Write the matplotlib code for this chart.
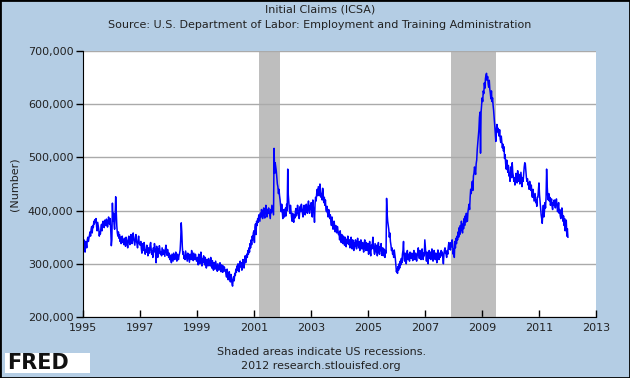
import numpy as np
import pandas as pd
import matplotlib
matplotlib.use('Agg')
import matplotlib.pyplot as plt
from matplotlib.ticker import FuncFormatter, MultipleLocator
from matplotlib.patches import Rectangle

# weekly initial claims, thousands (week ending Saturdays from Jan 1995)
claims_1995 = [340, 345, 328, 322, 342, 338, 330, 345, 350, 342, 348, 355, 360,
               352, 365, 370, 358, 372, 368, 380, 375, 383, 378, 385, 370, 362,
               378, 372, 365, 352, 360, 356, 368, 374, 362, 376, 380, 371, 368,
               382, 377, 372, 384, 380, 369, 376, 388, 379, 374, 385, 362, 334]
claims_1996 = [345, 414, 380, 395, 375, 365, 390, 426, 398, 372, 358, 352, 360,
               348, 355, 342, 350, 338, 346, 352, 340, 345, 336, 348, 342, 333,
               350, 344, 338, 330, 345, 352, 341, 336, 348, 355, 344, 338, 350,
               358, 346, 340, 335, 349, 355, 342, 338, 330, 345, 352, 340, 336]
claims_1997 = [335, 342, 328, 320, 338, 330, 325, 340, 332, 318, 326, 322, 335,
               328, 315, 330, 324, 320, 336, 340, 327, 318, 325, 312, 330, 322,
               338, 328, 320, 302, 333, 325, 312, 328, 320, 334, 326, 318, 322,
               315, 330, 324, 318, 326, 320, 314, 328, 335, 322, 316, 327, 320]
claims_1998 = [312, 320, 308, 316, 310, 302, 318, 312, 305, 320, 314, 308, 316,
               322, 310, 305, 318, 312, 308, 316, 320, 326, 345, 377, 360, 332,
               318, 322, 310, 315, 308, 324, 318, 312, 305, 320, 316, 310, 303,
               318, 312, 308, 325, 318, 312, 306, 320, 314, 308, 318, 312, 305]
claims_1999 = [305, 312, 298, 318, 306, 300, 314, 322, 308, 296, 310, 302, 315,
               306, 298, 312, 304, 292, 308, 300, 296, 310, 302, 305, 296, 312,
               300, 292, 306, 298, 288, 302, 295, 290, 305, 298, 292, 286, 300,
               294, 288, 296, 302, 290, 285, 298, 292, 284, 296, 288, 294, 286]
claims_2000 = [288, 280, 275, 290, 282, 270, 278, 285, 272, 266, 280, 274, 262,
               258, 270, 276, 268, 282, 278, 290, 284, 296, 288, 300, 292, 285,
               298, 305, 294, 302, 288, 296, 308, 300, 292, 306, 315, 302, 310,
               318, 312, 325, 318, 330, 322, 338, 330, 345, 336, 352, 345, 358]
claims_2001 = [362, 340, 368, 375, 355, 380, 372, 385, 378, 392, 386, 380, 395,
               388, 402, 394, 385, 398, 405, 392, 386, 400, 410, 396, 388, 402,
               395, 405, 398, 390, 385, 402, 396, 410, 404, 398, 392, 517, 470,
               490, 482, 475, 462, 450, 445, 432, 440, 428, 420, 410, 398, 412]
claims_2002 = [398, 385, 392, 402, 388, 395, 405, 390, 412, 400, 478, 430, 415,
               402, 395, 410, 398, 388, 380, 395, 384, 378, 392, 386, 398, 404,
               390, 395, 410, 402, 394, 385, 400, 408, 398, 412, 405, 395, 388,
               402, 410, 398, 392, 405, 412, 400, 395, 408, 418, 402, 395, 410]
claims_2003 = [402, 415, 395, 388, 420, 405, 398, 378, 412, 425, 418, 432, 440,
               428, 445, 436, 428, 450, 438, 425, 432, 420, 442, 430, 415, 425,
               410, 420, 402, 398, 408, 395, 388, 402, 395, 385, 392, 380, 372,
               388, 378, 365, 372, 380, 368, 360, 372, 365, 358, 370, 362, 355]
claims_2004 = [358, 345, 362, 350, 340, 355, 348, 338, 352, 345, 335, 350, 342,
               332, 346, 338, 352, 344, 336, 345, 330, 342, 350, 338, 328, 345,
               336, 325, 340, 332, 345, 336, 328, 340, 348, 335, 330, 342, 325,
               338, 345, 332, 328, 340, 335, 322, 338, 345, 330, 325, 340, 332]
claims_2005 = [325, 338, 318, 330, 342, 322, 315, 335, 328, 340, 350, 332, 325,
               318, 338, 330, 322, 335, 315, 328, 340, 326, 318, 332, 325, 338,
               316, 322, 330, 315, 328, 320, 312, 325, 320, 423, 395, 380, 372,
               365, 350, 358, 342, 335, 325, 330, 318, 322, 312, 326, 318, 310]
claims_2006 = [298, 285, 290, 282, 295, 288, 300, 292, 305, 298, 310, 302, 318,
               325, 342, 310, 305, 320, 312, 300, 315, 325, 308, 318, 312, 305,
               322, 316, 310, 320, 312, 306, 318, 325, 315, 308, 320, 312, 305,
               315, 322, 330, 318, 310, 325, 316, 308, 320, 328, 315, 308, 320]
claims_2007 = [315, 345, 330, 318, 305, 322, 312, 300, 318, 325, 310, 322, 308,
               315, 328, 320, 305, 312, 325, 316, 308, 320, 312, 302, 318, 326,
               314, 308, 320, 312, 318, 325, 315, 322, 310, 300, 318, 326, 330,
               320, 318, 312, 325, 318, 332, 340, 328, 335, 326, 340, 332, 345]
claims_2008 = [335, 318, 328, 312, 342, 330, 348, 338, 352, 345, 360, 350, 368,
               355, 372, 362, 380, 368, 358, 375, 366, 385, 372, 390, 378, 395,
               385, 380, 398, 405, 412, 402, 425, 440, 432, 445, 455, 438, 465,
               470, 482, 475, 468, 488, 495, 515, 528, 540, 552, 575, 585, 508]
claims_2009 = [585, 598, 612, 605, 625, 620, 640, 630, 648, 655, 658, 645, 652,
               638, 632, 645, 628, 620, 610, 625, 605, 612, 598, 588, 575, 560,
               545, 530, 552, 562, 548, 555, 545, 540, 552, 535, 528, 540, 530,
               518, 525, 512, 520, 498, 505, 488, 478, 495, 480, 472, 485, 465]
claims_2010 = [470, 455, 482, 478, 462, 490, 472, 465, 455, 462, 448, 455, 470,
               458, 452, 475, 462, 455, 468, 450, 460, 472, 458, 445, 462, 455,
               470, 482, 490, 488, 475, 462, 455, 460, 448, 452, 440, 455, 445,
               438, 448, 430, 425, 440, 432, 418, 425, 432, 415, 420, 408, 425]
claims_2011 = [425, 440, 452, 430, 418, 405, 392, 385, 376, 395, 410, 388, 398,
               415, 405, 425, 478, 448, 428, 420, 432, 418, 425, 410, 415, 422,
               408, 402, 415, 410, 420, 412, 405, 418, 422, 410, 398, 405, 415,
               395, 402, 390, 385, 398, 405, 392, 380, 390, 372, 385, 362, 378]
claims_2012 = [382, 352, 366, 350]

recessions = [('2001-03-01', '2001-11-30'), ('2007-12-01', '2009-06-30')]
year_ticks = list(range(1995, 2014, 2))

all_claims = (claims_1995 + claims_1996 + claims_1997 + claims_1998 + claims_1999 +
              claims_2000 + claims_2001 + claims_2002 + claims_2003 + claims_2004 +
              claims_2005 + claims_2006 + claims_2007 + claims_2008 + claims_2009 +
              claims_2010 + claims_2011 + claims_2012)
dates = pd.date_range('1995-01-07', periods=len(all_claims), freq='7D')
values = np.array(all_claims) * 1000

bg = '#b4cde4'
plt.rcParams['font.family'] = ['DejaVu Sans']
fig = plt.figure(figsize=(6.3, 3.78), dpi=100, facecolor=bg)
W, H = 630.0, 378.0
ax = fig.add_axes([83 / W, 1 - 317 / H, (596 - 83) / W, (317 - 51) / H])
ax.set_facecolor('white')

for start, end in recessions:
    ax.axvspan(pd.Timestamp(start), pd.Timestamp(end), color='#bebebe', lw=0, zorder=1)

ax.plot(dates, values, color='#0000ff', lw=1.1, zorder=3)

ax.set_xlim(pd.Timestamp('1995-01-01'), pd.Timestamp('2013-01-01'))
ax.set_ylim(200000, 700000)
ax.yaxis.set_major_locator(MultipleLocator(100000))
ax.yaxis.set_major_formatter(FuncFormatter(lambda v, p: '{:,.0f}'.format(v)))
ax.set_xticks([pd.Timestamp('%d-01-01' % y) for y in year_ticks])
ax.set_xticklabels([str(y) for y in year_ticks])
ax.grid(axis='y', color='#aaaaaa', lw=1, zorder=2)
ax.set_axisbelow(False)

for s in ['top', 'right']:
    ax.spines[s].set_visible(False)
ax.spines['left'].set_zorder(4)
ax.spines['bottom'].set_zorder(4)
ax.tick_params(axis='y', direction='out', length=5, width=1, labelsize=8, pad=2, colors='black')
ax.tick_params(axis='x', direction='in', length=5, width=1, labelsize=8, pad=4, colors='black')
for lab in ax.get_yticklabels() + ax.get_xticklabels():
    lab.set_color('#222222')

ax.set_ylabel('(Number)', fontsize=8, color='#222222', labelpad=6)

fig.text(0.508, 1 - 10 / H, 'Initial Claims (ICSA)', ha='center', va='center', fontsize=8, color='#222222')
fig.text(0.508, 1 - 25 / H, 'Source: U.S. Department of Labor: Employment and Training Administration',
         ha='center', va='center', fontsize=8, color='#222222')
fig.text(0.51, 1 - 352 / H, 'Shaded areas indicate US recessions.', ha='center', va='center',
         fontsize=8, color='#222222')
fig.text(0.51, 1 - 366 / H, '2012 research.stlouisfed.org', ha='center', va='center',
         fontsize=8, color='#222222')

# FRED logo box
fig.patches.append(Rectangle((5 / W, 1 - 373 / H), 85 / W, 20 / H, transform=fig.transFigure,
                             facecolor='white', edgecolor='none'))
fig.text(7 / W, 1 - 363 / H, 'FRED', ha='left', va='center', fontsize=15, fontweight='bold',
         color='#111111')

fig.patches.append(Rectangle((0, 0), 1, 1, transform=fig.transFigure, fill=False,
                             edgecolor='black', lw=2))

fig.savefig('out.png', dpi=100, facecolor=bg)
